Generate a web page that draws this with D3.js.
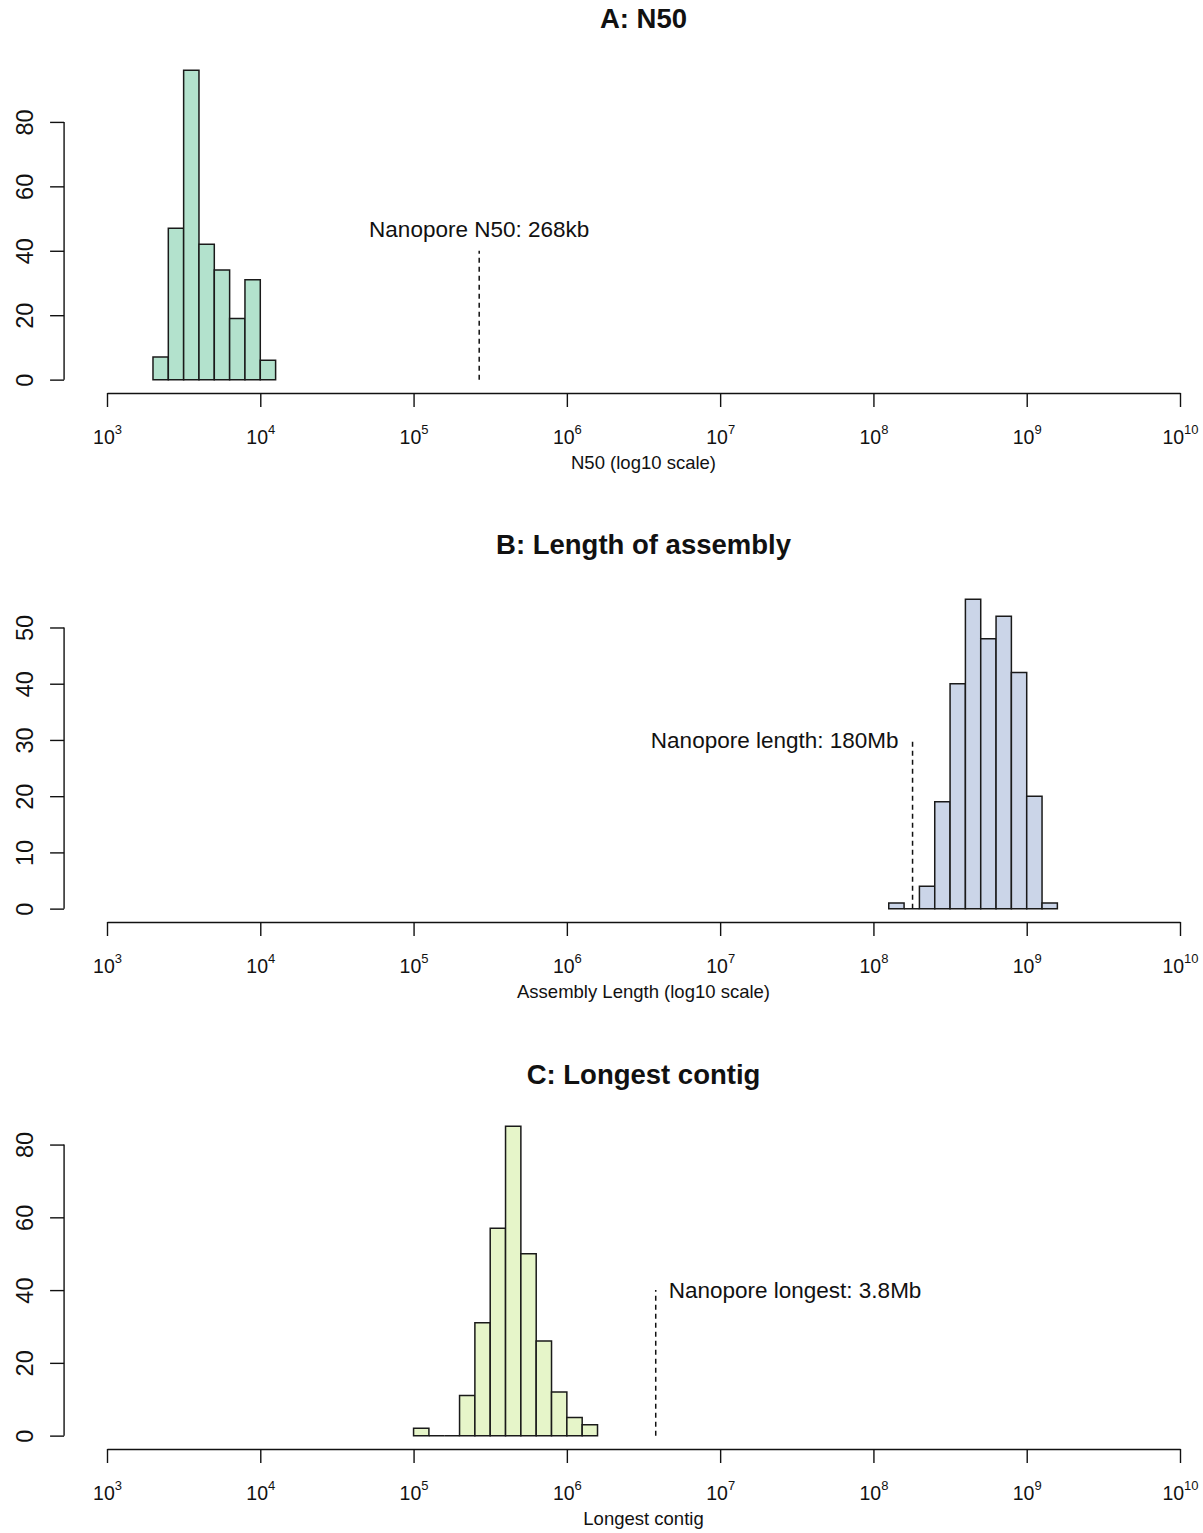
<!DOCTYPE html>
<html>
<head>
<meta charset="utf-8">
<script src="https://cdn.jsdelivr.net/npm/d3@7"></script>
<style>
  html, body { margin: 0; padding: 0; background: #fff; }
  svg { display: block; font-family: "Liberation Sans", Arial, sans-serif; }
</style>
</head>
<body>
<svg id="chart" width="1203" height="1533"></svg>
<script>
// ---------- data ----------
const panelTitles = ["A: N50", "B: Length of assembly", "C: Longest contig"];
const axisTitles = ["N50 (log10 scale)", "Assembly Length (log10 scale)", "Longest contig"];
const xTickExponents = [3, 4, 5, 6, 7, 8, 9, 10];

// histogram bins in log10 units (bin width 0.1)
const binStartA = 3.3;
const countsA = [7, 47, 96, 42, 34, 19, 31, 6];
const binStartB = 8.1;
const countsB = [1, 0, 4, 19, 40, 55, 48, 52, 42, 20, 1];
const binStartC = 5.0;
const countsC = [2, 0, 0, 11, 31, 57, 85, 50, 26, 12, 5, 3];
const binWidth = 0.1;

const yTicksA = [0, 20, 40, 60, 80];
const yTicksB = [0, 10, 20, 30, 40, 50];
const yTicksC = [0, 20, 40, 60, 80];

// nanopore reference values
const nanoporeValues = [268000, 180e6, 3.8e6];
const nanoporeHeights = [40, 30, 40];
const nanoporeLabels = ["Nanopore N50: 268kb", "Nanopore length: 180Mb", "Nanopore longest: 3.8Mb"];
const nanoporeLabelPos = ["above", "left", "right"];

const fills = ["#b3e2cd", "#cbd5e8", "#e6f5c9"];

// ---------- layout ----------
const panels = [
  { start: binStartA, counts: countsA, yTicks: yTicksA, top: 58, titleY: 28 },
  { start: binStartB, counts: countsB, yTicks: yTicksB, top: 587, titleY: 554 },
  { start: binStartC, counts: countsC, yTicks: yTicksC, top: 1114, titleY: 1084 }
];
const plotH = 334;
const svg = d3.select("#chart");
const x = d3.scaleLinear().domain([3, 10]).range([107, 1180]);
const yAxisX = x(2.72);
const ink = "#111";

panels.forEach((p, i) => {
  const maxC = d3.max(p.counts);
  const bottom = p.top + plotH;
  const y = d3.scaleLinear().domain([-0.04 * maxC, 1.04 * maxC]).range([bottom, p.top]);
  const g = svg.append("g");

  // title
  g.append("text")
    .attr("x", x(6.5)).attr("y", p.titleY)
    .attr("text-anchor", "middle")
    .attr("font-size", 27.5).attr("font-weight", "bold").attr("fill", ink)
    .text(panelTitles[i]);

  // bars
  const bins = p.counts.map((c, k) => ({ x0: p.start + k * binWidth, x1: p.start + (k + 1) * binWidth, c }));
  g.append("g").selectAll("path").data(bins).join("path")
    .attr("d", d => `M${x(d.x0)},${y(0)}V${y(d.c)}H${x(d.x1)}V${y(0)}Z`)
    .attr("fill", fills[i])
    .attr("stroke", "#1a1a1a").attr("stroke-width", 1.5);

  // x axis
  const xa = g.append("g")
    .attr("transform", `translate(0,${bottom + 1})`)
    .call(d3.axisBottom(x).tickValues(xTickExponents).tickSize(14).tickSizeOuter(0).tickFormat(""));
  xa.select(".domain").attr("stroke", ink).attr("stroke-width", 1.4);
  xa.selectAll(".tick line").attr("stroke", ink).attr("stroke-width", 1.4);
  xa.selectAll(".tick").each(function (e) {
    const t = d3.select(this).append("text")
      .attr("y", 51).attr("text-anchor", "middle").attr("fill", ink)
      .attr("font-size", 19.5);
    t.append("tspan").text("10");
    t.append("tspan").attr("dy", -10).attr("font-size", 13).text(e);
  });
  g.append("text")
    .attr("x", x(6.5)).attr("y", bottom + 77)
    .attr("text-anchor", "middle").attr("font-size", 18.5).attr("fill", ink)
    .text(axisTitles[i]);

  // y axis
  const ya = g.append("g")
    .attr("transform", `translate(${yAxisX},0)`)
    .call(d3.axisLeft(y).tickValues(p.yTicks).tickSize(14).tickSizeOuter(0));
  ya.select(".domain").remove();
  ya.append("line")
    .attr("x1", 0).attr("x2", 0)
    .attr("y1", y(0)).attr("y2", y(d3.max(p.yTicks)))
    .attr("stroke", ink).attr("stroke-width", 1.4);
  ya.selectAll(".tick line").attr("stroke", ink).attr("stroke-width", 1.4);
  ya.selectAll(".tick text")
    .attr("x", null).attr("dy", null)
    .attr("transform", `translate(${33 - yAxisX},0) rotate(-90)`)
    .attr("text-anchor", "middle")
    .attr("font-size", 23.5).attr("fill", ink)
    .attr("font-family", "Liberation Sans, Arial, sans-serif");

  // nanopore dashed line + label
  const lx = x(Math.log10(nanoporeValues[i]));
  const ly = y(nanoporeHeights[i]);
  g.append("line")
    .attr("x1", lx).attr("x2", lx)
    .attr("y1", y(0)).attr("y2", ly)
    .attr("stroke", ink).attr("stroke-width", 1.5)
    .attr("stroke-dasharray", "5,4");
  const lab = g.append("text").attr("font-size", 22.5).attr("fill", ink).text(nanoporeLabels[i]);
  if (nanoporeLabelPos[i] === "above") {
    lab.attr("x", lx).attr("y", ly - 14).attr("text-anchor", "middle");
  } else if (nanoporeLabelPos[i] === "left") {
    lab.attr("x", lx - 14).attr("y", ly + 8).attr("text-anchor", "end");
  } else {
    lab.attr("x", lx + 13).attr("y", ly + 8).attr("text-anchor", "start");
  }
});
</script>
</body>
</html>
